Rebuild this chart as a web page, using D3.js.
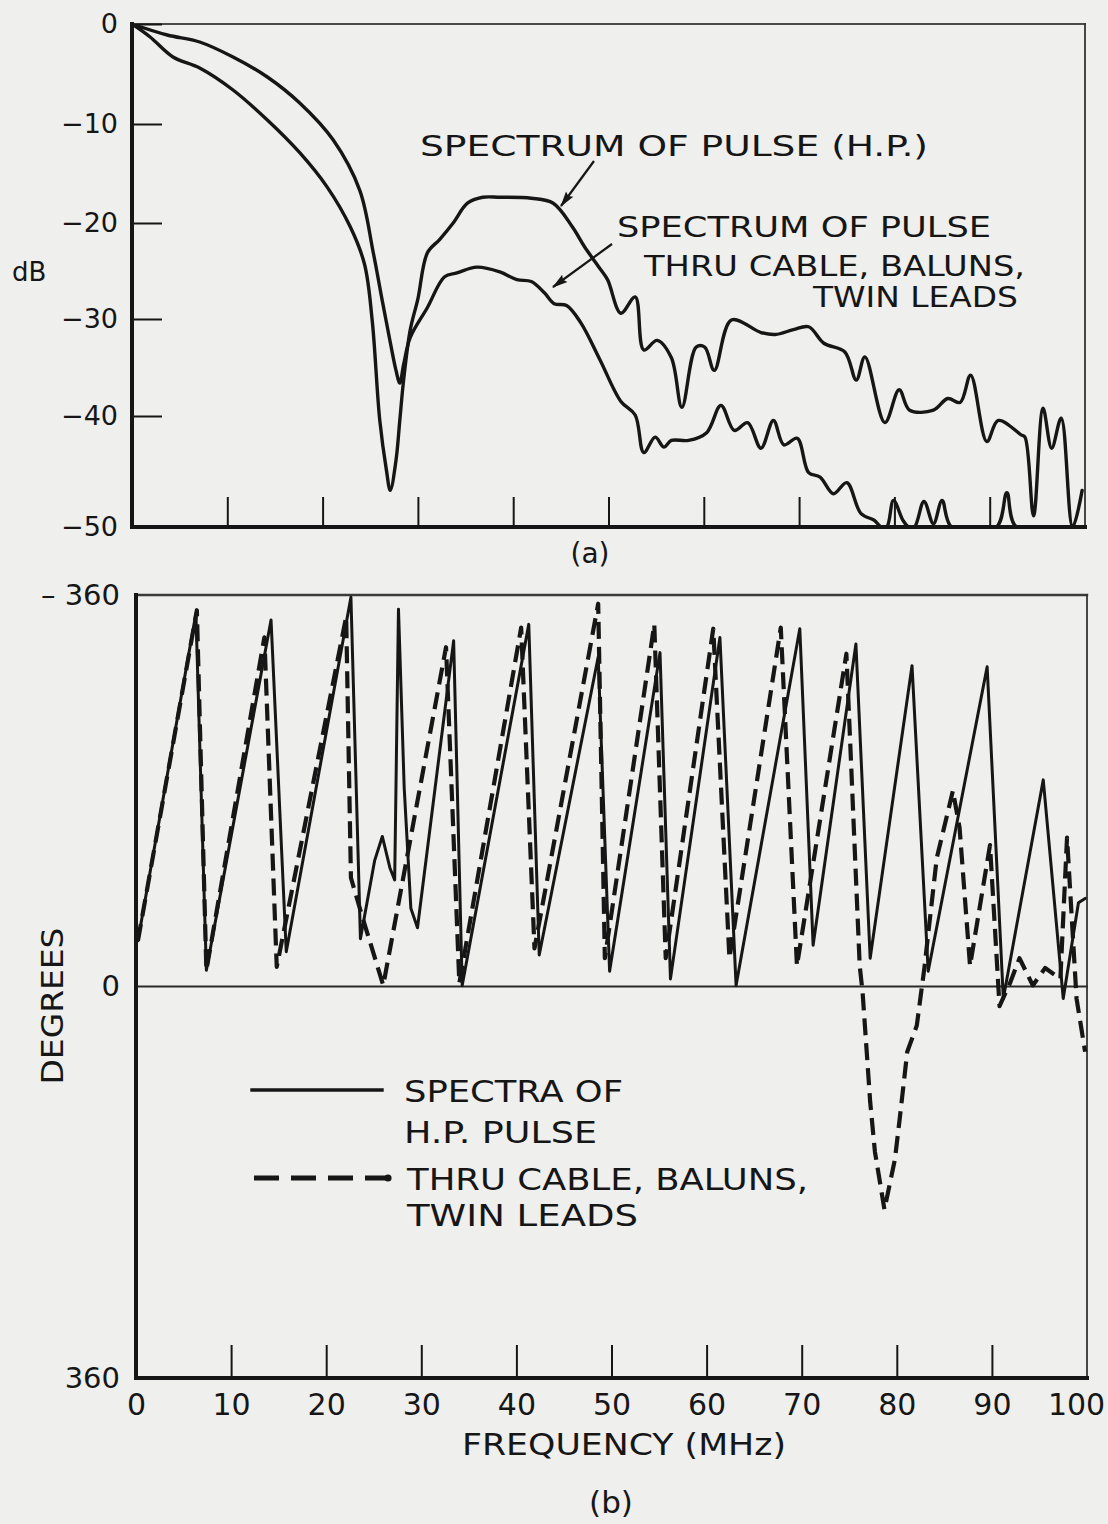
<!DOCTYPE html>
<html>
<head>
<meta charset="utf-8">
<script src="https://cdn.jsdelivr.net/npm/d3@7"></script>
<style>
  html, body { margin: 0; padding: 0; background: #efefed; }
  svg { display: block; }
</style>
</head>
<body>
<svg id="fig" width="1108" height="1524"></svg>
<script>
// ---------- data ----------
const freqTicks = [0, 10, 20, 30, 40, 50, 60, 70, 80, 90, 100];
const dbTicks = [0, -10, -20, -30, -40, -50];
const phaseTicks = [-360, 0, 360];

// (a) amplitude spectra, [MHz, dB]
const ampPulse = [
  [0,0],[1.9,-1.3],[4.3,-3.3],[7.1,-4.4],[10.6,-6.6],[14.2,-9.6],[17.6,-12.9],[20.5,-16.4],
  [22.9,-20.4],[24.4,-24.3],[25.2,-30.1],[26.0,-40.4],[26.7,-44.9],[27.1,-46.7],[27.7,-44.0],
  [28.1,-40.4],[28.5,-36.3],[29.2,-31.1],[30.0,-27.9],[31.0,-23.1],[32.3,-21.7],[33.7,-20.0],
  [35.2,-18.0],[36.8,-17.4],[38.6,-17.4],[41.9,-17.5],[44.2,-18.0],[46.2,-20.4],[47.5,-22.5],
  [49.0,-24.6],[49.9,-25.9],[51.3,-29.4],[52.8,-27.7],[53.7,-33.2],[55.1,-32.2],[56.6,-34.0],
  [57.7,-39.1],[59.2,-32.9],[60.1,-32.9],[61.1,-35.3],[62.9,-30.1],[66.0,-31.4],[67.5,-31.6],
  [69.4,-31.1],[71.0,-30.8],[72.6,-32.5],[74.8,-33.4],[76.0,-36.3],[76.9,-33.9],[79.0,-40.6],
  [80.5,-37.3],[81.6,-39.4],[84.1,-39.4],[85.6,-38.2],[86.9,-38.6],[88.0,-35.8],[89.7,-42.3],
  [90.9,-40.4],[93.3,-41.7],[93.7,-41.9],[94.6,-49.0],[95.6,-39.2],[96.5,-42.9],[97.5,-40.2],
  [98.7,-50],[99.7,-46.7]
];
const ampThru = [
  [0,0],[3.7,-1.1],[7.1,-1.8],[10.6,-3.3],[14.2,-5.3],[17.6,-7.9],[21.1,-11.6],[23.9,-16.7],
  [25.3,-23.0],[26.3,-28.3],[27.1,-32.4],[27.7,-35.3],[28.1,-36.6],[28.5,-34.7],[29.2,-31.9],
  [31.0,-28.8],[32.8,-25.6],[34.1,-25.2],[36.2,-24.6],[38.6,-25.1],[40.4,-25.9],[41.9,-26.1],
  [43.3,-27.3],[44.3,-28.4],[45.6,-28.6],[47.1,-30.4],[49.1,-34.2],[51.3,-38.5],[52.8,-39.9],
  [53.7,-43.3],[54.9,-41.9],[55.8,-42.8],[56.6,-42.2],[58.4,-42.2],[60.3,-41.5],[61.8,-38.9],
  [63.2,-41.3],[64.6,-40.6],[66.0,-42.9],[67.3,-40.4],[68.4,-42.6],[69.8,-42.0],[71.0,-45.1],
  [72.2,-45.5],[73.6,-47.0],[75.0,-46.0],[76.5,-48.8],[77.9,-49.4],[78.6,-50],[79.2,-50],
  [79.9,-47.6],[80.9,-49.4],[81.5,-50],[82.1,-50],[83.1,-47.7],[84.1,-49.7],[85.0,-47.6],
  [86.0,-50],[90.7,-50],[91.8,-46.9],[92.8,-50],[100,-50]
];

// (b) phase spectra, [MHz, degrees]
const phasePulse = [
  [0.2,-42],[6.3,-343],[7.4,-15],[14.2,-337],[15.8,-32],[22.6,-358],[23.6,-44],[25.1,-116],
  [25.9,-138],[26.7,-109],[27.2,-98],[27.6,-347],[28.2,-183],[28.9,-72],[29.6,-54],[33.4,-318],
  [34.3,-1],[41.3,-333],[42.4,-29],[48.6,-303],[49.8,-14],[55.1,-307],[56.2,-7],[61.4,-321],
  [63.1,-1],[69.8,-329],[71.2,-38],[75.7,-315],[77.2,-26],[81.6,-295],[83.3,-14],[89.5,-294],
  [91.2,11],[95.4,-190],[97.5,11],[99.1,-77],[99.8,-81]
];
const phaseThru = [
  [0.2,-42],[6.4,-346],[7.4,-15],[13.5,-321],[14.8,-18],[22.1,-340],[22.6,-100],[23.7,-67],
  [26.0,-1],[32.6,-312],[34.0,-3],[40.5,-330],[41.9,-35],[48.6,-352],[49.3,-26],[54.5,-333],
  [55.7,-26],[60.7,-329],[62.4,-26],[67.8,-330],[69.5,-19],[74.7,-306],[76.1,-19],[76.4,5],
  [77.2,106],[77.7,152],[78.7,205],[79.8,159],[80.3,122],[81.1,60],[82.1,36],[82.9,-17],
  [84.2,-118],[85.9,-180],[86.6,-146],[87.7,-19],[89.8,-130],[90.8,18],[91.9,-3],[92.9,-26],
  [94.3,-1],[95.6,-17],[97.2,-7],[97.9,-137],[98.9,11],[99.8,60]
];

// ---------- drawing ----------
const INK = "#161616";
const FONT = "'DejaVu Sans', 'Liberation Sans', sans-serif";
const NARROW = "'Liberation Sans Narrow', 'DejaVu Sans Condensed', 'DejaVu Sans', sans-serif";
const svg = d3.select("#fig");
const defs = svg.append("defs");

defs.append("marker")
  .attr("id", "head").attr("viewBox", "0 0 14 8")
  .attr("refX", 13).attr("refY", 4)
  .attr("markerUnits", "userSpaceOnUse")
  .attr("markerWidth", 17).attr("markerHeight", 9)
  .attr("orient", "auto")
  .append("path").attr("d", "M0,0 L14,4 L0,8 L2,4 Z").attr("fill", INK);

function label(g, str, x, y, opts = {}) {
  const t = g.append("text")
    .attr("x", x).attr("y", y)
    .attr("fill", INK)
    .attr("font-family", opts.family || FONT)
    .attr("font-size", opts.size || 28)
    .attr("text-anchor", opts.anchor || "start")
    .text(str);
  if (opts.width) t.attr("textLength", opts.width).attr("lengthAdjust", "spacingAndGlyphs");
  if (opts.rotate) t.attr("transform", `rotate(${opts.rotate},${x},${y})`);
  return t;
}

function line(g, x1, y1, x2, y2, w, color = INK) {
  g.append("line").attr("x1", x1).attr("y1", y1).attr("x2", x2).attr("y2", y2)
    .attr("stroke", color).attr("stroke-width", w).attr("stroke-linecap", "square");
}

// ===== panel (a): amplitude =====
const xA = d3.scaleLinear().domain([0, 100]).range([132, 1085]);
const yA = d3.scaleLinear().domain(dbTicks).range([24, 124, 223, 319, 416, 527]);
const gA = svg.append("g");

// keep the smoothed traces inside the frame
defs.append("clipPath").attr("id", "clipA").append("rect")
  .attr("x", xA(0)).attr("y", yA(0) - 2)
  .attr("width", xA(100) - xA(0)).attr("height", yA(-50) - yA(0) + 2);

// curves first, frame drawn over them
const lineA = d3.line().x(d => xA(d[0])).y(d => yA(d[1])).curve(d3.curveCatmullRom.alpha(0.5));
const curvesA = gA.append("g").attr("clip-path", "url(#clipA)");
[ampThru, ampPulse].forEach(s => {
  curvesA.append("path").datum(s).attr("d", lineA)
    .attr("fill", "none").attr("stroke", INK).attr("stroke-width", 3.4)
    .attr("stroke-linejoin", "round").attr("stroke-linecap", "round");
});

line(gA, xA(0), yA(0), xA(100), yA(0), 1.8, "#4a4a4a");
line(gA, xA(100), yA(0), xA(100), yA(-50), 1.8, "#333");
line(gA, xA(0), yA(0), xA(0), yA(-50), 4);
line(gA, xA(0), yA(-50), xA(100), yA(-50), 4);

// inward ticks
const axA_left = gA.append("g").attr("transform", `translate(${xA(0)},0)`)
  .call(d3.axisLeft(yA).tickValues(dbTicks).tickSizeInner(-30).tickSizeOuter(0).tickPadding(14));
const axA_bottom = gA.append("g").attr("transform", `translate(0,${yA(-50)})`)
  .call(d3.axisBottom(xA).tickValues(freqTicks.slice(1, -1)).tickSizeInner(-30).tickSizeOuter(0).tickFormat(""));
[axA_left, axA_bottom].forEach(ax => {
  ax.select(".domain").remove();
  ax.selectAll(".tick line").attr("stroke", INK).attr("stroke-width", 2);
});
axA_left.selectAll(".tick text")
  .attr("fill", INK).style("font-family", FONT).style("font-size", "27px");

label(gA, "dB", 12, 281, { size: 26 });
label(gA, "(a)", 590, 563, { size: 28, anchor: "middle" });

label(gA, "SPECTRUM  OF  PULSE  (H.P.)", 420, 156, { size: 29, width: 508, family: NARROW });
label(gA, "SPECTRUM  OF  PULSE", 617, 237, { size: 29, width: 374, family: NARROW });
label(gA, "THRU CABLE, BALUNS,", 644, 276, { size: 28, width: 381, family: NARROW });
label(gA, "TWIN LEADS", 813, 307, { size: 28, width: 205, family: NARROW });

gA.append("line").attr("x1", 594).attr("y1", 161).attr("x2", 561).attr("y2", 206)
  .attr("stroke", INK).attr("stroke-width", 2.2).attr("marker-end", "url(#head)");
gA.append("line").attr("x1", 612).attr("y1", 244).attr("x2", 553).attr("y2", 287)
  .attr("stroke", INK).attr("stroke-width", 2.2).attr("marker-end", "url(#head)");

// ===== panel (b): phase =====
const xB = d3.scaleLinear().domain([0, 100]).range([136, 1087]);
const yB = d3.scaleLinear().domain([-360, 360]).range([595, 1378]);
const gB = svg.append("g");

line(gB, xB(0), yB(-360), xB(100), yB(-360), 2.4, "#3a3a3a");
line(gB, xB(100), yB(-360), xB(100), yB(360), 1.8, "#333");
line(gB, xB(0), yB(0), xB(100), yB(0), 2, "#2a2a2a");
line(gB, xB(0), yB(-360), xB(0), yB(360), 4);
line(gB, xB(0), yB(360), xB(100), yB(360), 4);

const axB_left = gB.append("g").attr("transform", `translate(${xB(0)},0)`)
  .call(d3.axisLeft(yB).tickValues(phaseTicks).tickSize(0).tickPadding(16)
    .tickFormat(d => d < 0 ? "\u2013 " + Math.abs(d) : String(d)));
const axB_bottom = gB.append("g").attr("transform", `translate(0,${yB(360)})`)
  .call(d3.axisBottom(xB).tickValues(freqTicks).tickSizeInner(-33).tickSizeOuter(0).tickPadding(16));
[axB_left, axB_bottom].forEach(ax => {
  ax.select(".domain").remove();
  ax.selectAll(".tick line").attr("stroke", INK).attr("stroke-width", 2);
});
axB_bottom.selectAll(".tick line").filter(d => d === 0 || d === 100).remove();
axB_left.selectAll(".tick text").attr("fill", INK).style("font-family", FONT).style("font-size", "29px");
axB_bottom.selectAll(".tick text").attr("fill", INK).style("font-family", FONT).style("font-size", "30px");
// the last label sits a little inside the frame's corner
axB_bottom.selectAll(".tick text").filter(d => d === 100).attr("dx", -11);

const lineB = d3.line().x(d => xB(d[0])).y(d => yB(d[1])).curve(d3.curveLinear);
gB.append("path").datum(phasePulse).attr("d", lineB)
  .attr("fill", "none").attr("stroke", INK).attr("stroke-width", 3)
  .attr("stroke-linejoin", "round").attr("stroke-linecap", "round");
gB.append("path").datum(phaseThru).attr("d", lineB)
  .attr("fill", "none").attr("stroke", INK).attr("stroke-width", 4.2)
  .attr("stroke-dasharray", "17,8").attr("stroke-linejoin", "round");

label(gB, "DEGREES", 63, 1006, { size: 30, width: 157, anchor: "middle", rotate: -90 });
label(gB, "FREQUENCY (MHz)", 624, 1455, { size: 30, width: 324, anchor: "middle" });
label(gB, "(b)", 611, 1513, { size: 31, anchor: "middle" });

// legend
line(gB, 252, 1090, 382, 1090, 3.4);
label(gB, "SPECTRA  OF", 404, 1102, { size: 30, width: 219 });
label(gB, "H.P.  PULSE", 404, 1143, { size: 30, width: 193 });
gB.append("line").attr("x1", 254).attr("y1", 1178).attr("x2", 391).attr("y2", 1178)
  .attr("stroke", INK).attr("stroke-width", 5).attr("stroke-dasharray", "25,12");
gB.append("circle").attr("cx", 388).attr("cy", 1178).attr("r", 3.6).attr("fill", INK);
label(gB, "THRU CABLE, BALUNS,", 407, 1190, { size: 30, width: 401 });
label(gB, "TWIN  LEADS", 407, 1226, { size: 30, width: 231 });
</script>
</body>
</html>
